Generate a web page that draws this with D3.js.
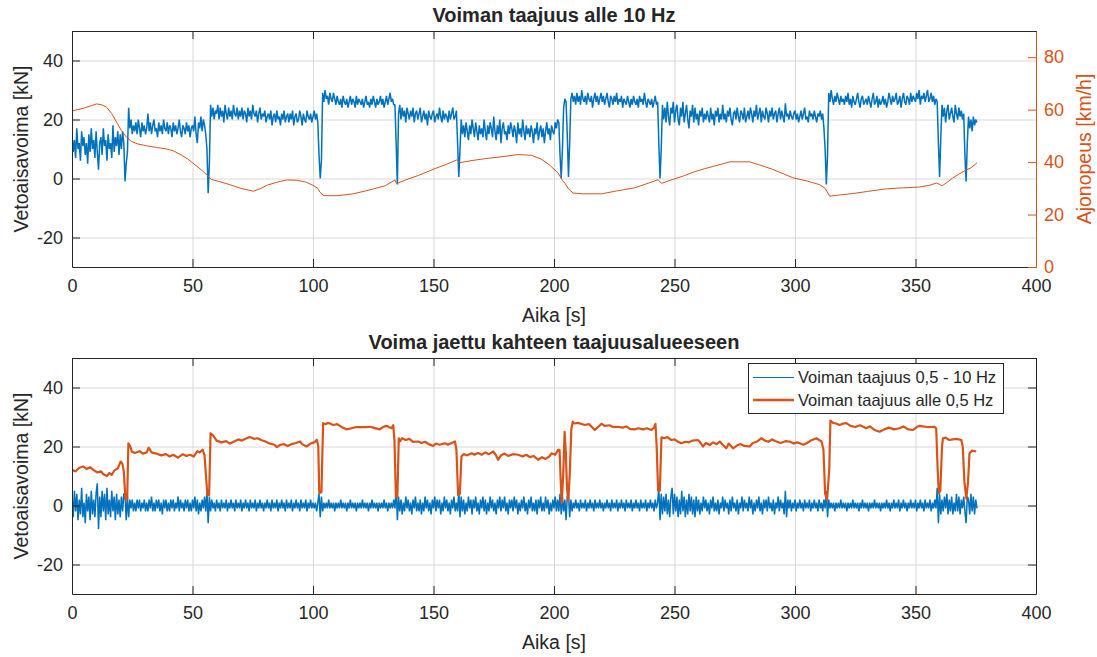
<!DOCTYPE html>
<html>
<head>
<meta charset="utf-8">
<script src="https://cdn.jsdelivr.net/npm/d3@7"></script>
<style>
  body { margin: 0; background: #fff; }
  text { font-family: "Liberation Sans", Arial, Helvetica, sans-serif; }
</style>
</head>
<body>
<svg id="chart" width="1097" height="657"></svg>
<script>
// ---- data ----
const sampleStep = 0.5; // s, force signals below are sampled twice a second (peak values)

// force below 10 Hz [kN], top plot, one row = 10 s
const topForce = [
  15, 9, 13, 7, 17, 10, 12, 6, 16, 11, 14, 8, 12, 5, 15, 9, 17, 10, 13, 7,
  16, 9, 3, 12, 14, 8, 17, 11, 13, 6, 15, 10, 12, 7, 18, 9, 14, 11, 16, 8,
  15, 10, 16, 12, -1, 5, 9, 24, 17, 20, 15, 18, 16, 19, 15, 20, 17, 14, 19, 16,
  18, 15, 17, 22, 16, 19, 15, 18, 20, 16, 17, 14, 19, 16, 18, 15, 20, 17, 16, 19,
  15, 18, 17, 14, 19, 16, 18, 15, 17, 20, 16, 14, 18, 17, 15, 19, 16, 18, 14, 17,
  18, 16, 21, 15, 12, 19, 17, 21, 16, 20, 18, 15, 10, -5, 5, 25, 21, 24, 20, 23,
  22, 25, 20, 24, 21, 23, 19, 25, 22, 20, 24, 21, 23, 20, 25, 22, 21, 24, 20, 23,
  21, 24, 20, 23, 22, 19, 24, 21, 23, 20, 25, 22, 21, 23, 19, 22, 24, 20, 22, 21,
  23, 19, 21, 22, 20, 23, 18, 21, 22, 19, 23, 20, 21, 18, 22, 20, 23, 19, 21, 22,
  19, 22, 20, 23, 18, 21, 22, 19, 20, 23, 21, 18, 22, 20, 19, 23, 21, 20, 22, 19,
  21, 23, 20, 22, 19, 8, 0, 6, 29, 26, 30, 27, 28, 25, 29, 27, 26, 29, 27, 25,
  28, 26, 25, 27, 24, 28, 26, 25, 27, 24, 26, 28, 25, 27, 26, 24, 28, 25, 27, 26,
  25, 27, 24, 26, 28, 25, 26, 24, 27, 25, 28, 26, 24, 27, 25, 26, 28, 25, 27, 24,
  26, 28, 25, 27, 29, 26, 27, 25, 25, 12, -2, 22, 25, 20, 24, 21, 23, 19, 24, 22,
  20, 23, 21, 24, 19, 22, 23, 20, 22, 24, 19, 21, 23, 20, 22, 18, 23, 21, 20, 22,
  23, 19, 21, 22, 20, 24, 21, 19, 23, 20, 22, 21, 19, 23, 20, 22, 24, 20, 21, 23,
  12, 0.5, 10, 20, 15, 18, 14, 19, 16, 13, 18, 15, 20, 17, 14, 19, 16, 13, 18, 15,
  17, 14, 20, 16, 13, 18, 15, 19, 17, 14, 21, 16, 13, 18, 15, 20, 12, 17, 19, 15,
  16, 13, 18, 15, 19, 17, 14, 18, 16, 12, 19, 15, 17, 14, 20, 16, 13, 18, 15, 17,
  14, 18, 16, 12, 17, 15, 19, 13, 16, 18, 14, 17, 12, 16, 19, 15, 17, 13, 18, 16,
  15, 19, 17, 20, 19, 8, 0, 10, 24, 27, 26, 15, 0.5, 12, 27, 29, 26, 28, 25, 29,
  26, 28, 25, 30, 27, 26, 28, 25, 29, 27, 26, 28, 24, 27, 29, 26, 28, 25, 27, 29,
  26, 28, 25, 27, 29, 26, 24, 28, 27, 25, 28, 26, 29, 25, 27, 26, 28, 24, 27, 26,
  25, 28, 26, 24, 27, 25, 28, 26, 25, 27, 24, 28, 26, 27, 25, 29, 26, 24, 27, 26,
  25, 27, 24, 26, 28, 25, 26, 12, 0, 10, 25, 20, 24, 19, 26, 21, 18, 24, 22, 26,
  19, 23, 25, 20, 18, 24, 21, 26, 19, 22, 25, 20, 17, 23, 21, 25, 19, 24, 20, 22,
  18, 23, 21, 24, 19, 22, 20, 23, 21, 19, 24, 20, 22, 18, 23, 21, 24, 19, 22, 20,
  25, 20, 22, 19, 23, 21, 24, 20, 18, 22, 23, 20, 24, 21, 19, 23, 22, 20, 24, 19,
  21, 23, 20, 24, 22, 19, 23, 21, 25, 20, 22, 24, 19, 23, 21, 20, 24, 22, 19, 23,
  21, 24, 20, 22, 23, 19, 22, 24, 20, 23, 21, 19, 25.5, 21, 22, 20, 23, 21, 20, 22,
  23, 20, 22, 19, 21, 23, 20, 22, 24, 20, 21, 19, 23, 21, 22, 20, 23, 21, 19, 22,
  21, 23, 20, 22, 17, 10, -2, 8, 29, 26, 30, 27, 25, 28, 26, 29, 27, 25, 28, 26,
  27, 25, 28, 26, 29, 25, 27, 24, 28, 26, 25, 27, 29, 26, 24, 27, 28, 25, 26, 27,
  25, 28, 26, 24, 27, 29, 25, 26, 28, 24, 27, 25, 26, 28, 25, 27, 24, 26, 29, 27,
  25, 28, 26, 27, 29, 25, 26, 28, 24, 27, 29, 26, 25, 28, 27, 25, 29, 26, 28, 27,
  26, 29, 27, 30, 25, 28, 27, 29, 26, 28, 30, 26, 27, 29, 26, 28, 25, 27, 26, 12,
  0.5, 14, 25, 21, 24, 19, 23, 25, 20, 22, 24, 21, 19, 25, 22, 20, 24, 21, 23, 20,
  22, 8, -1, 12, 21, 17, 20, 16, 21, 18, 20, 19
];

// force 0.5 - 10 Hz [kN], bottom plot, one row = 10 s
const bandForce = [
  3, -4, 5, -2, 4, -5, 2, -3, 6, -4, 1, -6, 4, -2, 3, -5, 5, -3, 2, -4,
  4, 7.5, -8, 3, -4, 5, -2, 4, -5, 6, -3, 2, -4, 5, -2, 3, -5, 4, -3, 2,
  -4, 3, -2, 4, 4, -5, 3, -4, 2, -1, 2, -2, 1, -2, 2, -1, 2, -2, 1, -1,
  2, -2, 1, -2, 2, -1, 3, -2, 1, -2, 2, -1, 2, -2, 1, -3, 2, -1, 2, -2,
  1, -2, 2, -1, 2, -2, 1, -1, 3, -2, 2, -1, 1, -2, 2, -1, 2, -2, 1, -2,
  2, -1, 3, -2, 2, -3, 1, -2, 2, -1, 3, -2, 5, -6, 3, -2, 2, -1, 1, -2,
  2, -1, 1, -2, 2, -1, 1, -1, 2, -2, 1, -1, 2, -1, 1, -2, 2, -1, 1, -1,
  2, -2, 1, -1, 2, -1, 1, -2, 2, -1, 1, -1, 2, -2, 1, -1, 2, -1, 1, -2,
  1, -1, 2, -1, 1, -2, 2, -1, 1, -1, 2, -2, 1, -1, 2, -1, 1, -2, 2, -1,
  1, -1, 2, -2, 1, -1, 2, -1, 1, -2, 2, -1, 1, -1, 2, -2, 1, -1, 2, -1,
  1, -1, 1, -2, 1, 4, -4, 3, -2, 1, -1, 1, -1, 2, -1, 1, -1, 1, -2, 1,
  -1, 1, -1, 2, -1, 1, -1, 1, -2, 1, -1, 2, -1, 1, -1, 1, -2, 1, -1, 1,
  -1, 2, -1, 1, -1, 1, -2, 1, -1, 2, -1, 1, -1, 1, -2, 1, -1, 1, -1, 2,
  -1, 1, -2, 1, -1, 1, -1, 2, -1, 6, -5, 3, -2, 2, -3, 1, -2, 3, -1, 2,
  -2, 1, -3, 2, -1, 3, -2, 1, -2, 2, -3, 1, -2, 3, -1, 2, -2, 1, -3, 2,
  -1, 3, -2, 2, -1, 2, -3, 1, -2, 3, -1, 2, -2, 1, -3, 2, -1, 3, -2, 1,
  -2, 5, -4, 3, -2, 2, -3, 1, -2, 3, -1, 2, -3, 2, -1, 3, -2, 1, -3, 2,
  -1, 3, -2, 2, -3, 1, -2, 3, -1, 2, -2, 1, -3, 2, -1, 3, -2, 2, -1, 3,
  -2, 1, -3, 2, -1, 2, -2, 3, -1, 2, -3, 1, -2, 2, -1, 3, -2, 1, -3, 2,
  -1, 3, -2, 1, -2, 2, -3, 2, -1, 3, -2, 1, -2, 3, -1, 2, -3, 1, -2, 2,
  -1, 3, -2, 2, -2, 4, -3, 3, -2, 2, -5, 3, 4, -4, 2, -2, 1, -1, 2, -1,
  1, -2, 2, -1, 1, -1, 2, -2, 1, -1, 2, -1, 1, -2, 2, -1, 1, -1, 2, -1,
  1, -2, 1, -1, 2, -1, 1, -2, 2, -1, 1, -1, 2, -2, 1, -1, 2, -1, 1, -2,
  2, -1, 1, -1, 2, -2, 1, -1, 2, -1, 1, -2, 2, -1, 1, -1, 2, -2, 1, -1,
  2, -1, 1, -2, 2, -1, 1, 6, -5, 4, -3, 3, -2, 4, -3, 2, -4, 3, 6, -3,
  4, -2, 3, -4, 2, -3, 5, -2, 3, -4, 2, -3, 4, -2, 3, -3, 2, -4, 3, -2,
  2, -3, 1, -2, 3, -1, 2, -2, 1, -3, 2, -1, 3, -2, 1, -2, 2, -3, 1, -1,
  3, -2, 2, -1, 1, -3, 2, -2, 3, -1, 1, -2, 2, -3, 1, -1, 3, -2, 2, -1,
  1, -2, 3, -1, 2, -3, 1, -2, 2, -1, 3, -2, 1, -3, 2, -1, 2, -2, 3, -1,
  1, -2, 2, -3, 1, -1, 3, -2, 2, -1, 1, -3, 5, -4, 2, -1, 2, -2, 1, -1,
  2, -2, 1, -1, 2, -1, 1, -2, 2, -1, 1, -1, 2, -2, 1, -1, 2, -1, 1, -2,
  2, -1, 1, -2, 2, -1, 5, -4, 2, -1, 1, -1, 1, -2, 1, -1, 1, -1, 2, -1,
  1, -1, 1, -2, 1, -1, 1, -1, 2, -1, 1, -1, 1, -2, 1, -1, 2, -1, 1, -1,
  1, -2, 1, -1, 1, -1, 2, -1, 1, -1, 1, -2, 1, -1, 1, -1, 2, -1, 1, -2,
  1, -1, 2, -1, 1, -1, 2, -2, 1, -1, 2, -1, 1, -2, 1, -1, 2, -1, 1, -1,
  2, -2, 1, -1, 2, -1, 1, -2, 2, -1, 1, -1, 2, -2, 1, -1, 2, -1, 6, -6,
  4, -3, 2, -2, 3, -1, 4, -3, 2, -2, 3, -3, 1, -2, 4, -2, 3, -3, 2, -1,
  3, -2, -6, 3, 2, -3, 4, -2, 3, -3, 2, -1
];

// force below 0.5 Hz [kN], bottom plot
const lowTime = [
  0, 1.5, 3, 4.7, 6, 7.5, 9, 10.5, 12, 13, 14.5, 15.5, 16.5, 17.5, 19, 20.2, 20.9, 21.5, 22.2, 22.9,
  23.4, 24.2, 24.8, 26, 28, 29.5, 31, 31.8, 33, 35, 37, 39, 40.5, 42, 44, 46, 47.5, 49, 50.5, 52,
  53, 54.2, 55, 55.6, 56.2, 56.9, 57.5, 58.5, 60, 62, 64, 65.5, 67, 69, 70.5, 72, 73.8, 75.5, 77, 78.5,
  80, 82, 84, 85, 86.5, 88, 89.5, 91, 93, 94.6, 95.5, 97.3, 99, 100.5, 101.6, 102.2, 102.6, 103.5, 104.2, 105,
  106.5, 108.4, 110, 111.5, 113, 114, 116, 118, 120, 122, 123.6, 125, 127.7, 129, 130.5, 131.5, 132.6, 133.3, 133.8, 134.4,
  135, 135.6, 136.2, 137, 138.5, 140, 141.5, 143.7, 145, 146.5, 148, 149.9, 151, 152.5, 154.7, 156, 157.5, 158.9, 159.5, 160.2,
  160.9, 161.6, 162.5, 164, 165.8, 167, 168.5, 170, 171.5, 173, 174.8, 175.8, 176.8, 178, 179.5, 181, 183, 185.1, 187, 188.5,
  190, 191.5, 193.4, 195, 196.5, 198, 199, 200.5, 201.7, 202.3, 202.8, 203.2, 203.8, 204.4, 204.9, 205.4, 205.9, 206.5, 207.2, 207.8,
  208.5, 210, 212.8, 214.5, 216.9, 218.5, 219.7, 221, 223, 224.5, 226.6, 228.5, 230, 231.5, 233.5, 235, 237, 238.5, 240.4, 241.5,
  242.1, 242.6, 243.2, 243.9, 244.6, 245.8, 247, 248.7, 250, 251.5, 252.8, 254.5, 256, 257.5, 259.7, 260.5, 261.8, 263, 264.6, 266,
  267.5, 268.8, 270, 271.5, 272.5, 274.3, 276, 277.5, 279, 281.2, 282.5, 284, 286.1, 287.5, 289, 290.5, 292.3, 294, 296, 297.8,
  299.5, 301, 302, 303.5, 305, 306.5, 308.9, 310, 311, 311.8, 312.5, 313.3, 314.2, 314.7, 315.8, 317, 318.5, 320, 321.3, 323,
  325, 327, 329.6, 331, 333, 335.1, 337, 339, 341, 343.4, 345, 347, 349, 350.5, 351.7, 353, 355, 357.9, 358.6, 359.2,
  359.7, 360.3, 361, 361.4, 362.5, 364, 365.5, 367, 369, 369.6, 370.3, 371.1, 371.8, 372.4, 373.5, 375.2
];
const lowForce = [
  12.0, 11.6, 12.8, 13.2, 12.4, 13.0, 12.0, 11.2, 11.6, 10.6, 10.0, 11.0, 10.4, 11.8, 12.6, 14.9, 14.2, 11.5, 2.0, 2.2,
  21.1, 20.0, 18.3, 17.8, 18.4, 17.6, 18.0, 19.6, 18.0, 17.6, 17.0, 17.4, 16.6, 17.2, 16.2, 17.4, 16.8, 17.2, 16.6, 18.4,
  18.0, 18.9, 17.0, 10.0, 3.4, 3.6, 24.5, 23.8, 22.0, 21.4, 21.8, 21.0, 21.6, 22.4, 22.0, 22.6, 23.2, 22.6, 22.8, 22.2,
  21.8, 21.0, 20.6, 19.8, 20.6, 20.8, 20.2, 20.8, 21.2, 21.7, 20.8, 20.0, 21.0, 21.4, 22.3, 20.0, 4.3, 4.5, 27.9, 27.6,
  28.0, 27.3, 27.6, 26.8, 26.2, 25.8, 26.2, 26.6, 26.6, 26.6, 26.7, 26.4, 25.8, 26.6, 27.0, 26.6, 26.2, 27.2, 22.0, 3.0,
  2.8, 22.8, 21.8, 22.8, 22.2, 22.6, 21.6, 21.7, 21.2, 21.6, 20.8, 20.2, 21.0, 20.6, 21.1, 20.6, 21.2, 21.7, 19.0, 3.6,
  3.8, 16.6, 17.4, 17.0, 17.7, 17.2, 17.8, 17.2, 18.0, 17.4, 18.3, 17.2, 15.5, 17.0, 17.6, 16.8, 17.4, 17.2, 16.6, 17.2,
  16.4, 16.8, 15.5, 16.4, 15.8, 16.6, 17.7, 17.2, 18.9, 18.9, 8.0, 0.8, 10.0, 25.0, 18.0, 6.0, 1.5, 10.0, 26.0, 28.4,
  27.8, 28.0, 27.3, 27.6, 25.6, 26.8, 27.7, 27.0, 27.2, 26.6, 26.7, 26.4, 26.8, 26.0, 25.8, 26.2, 25.8, 26.2, 25.6, 26.4,
  27.7, 20.0, 5.0, 5.0, 23.1, 22.8, 23.2, 22.2, 22.4, 21.6, 21.1, 21.6, 21.4, 22.0, 22.2, 21.6, 20.0, 21.2, 20.5, 21.4,
  20.8, 21.7, 20.6, 19.4, 21.0, 19.4, 20.4, 20.8, 20.2, 20.0, 21.2, 21.6, 22.8, 22.0, 21.6, 22.4, 21.7, 21.2, 21.8, 21.7,
  21.0, 21.4, 21.1, 20.6, 21.2, 22.0, 22.8, 22.2, 21.7, 19.0, 4.0, 1.9, 12.0, 28.8, 28.0, 27.8, 27.3, 27.8, 27.9, 27.0,
  26.6, 27.2, 26.2, 26.8, 25.6, 25.0, 25.8, 26.4, 25.8, 26.2, 26.8, 25.8, 25.6, 26.6, 27.0, 26.8, 26.6, 26.7, 26.0, 12.0,
  4.2, 5.0, 20.0, 22.8, 23.0, 22.2, 22.4, 22.6, 22.2, 20.0, 8.0, 2.3, 8.0, 17.7, 18.6, 18.3
];

// driving speed [km/h], top plot right axis
const speedTime = [
  0, 5, 10.2, 12.5, 14.4, 16.5, 18.5, 20.5, 22.7, 24.5, 27, 31, 35, 39.3, 42, 44.8, 48, 51.7, 54.5, 56.5,
  57.9, 61, 65.5, 70, 75.2, 78, 81, 84.9, 89, 93.2, 97, 100.1, 102, 102.9, 104.5, 110, 116.7, 124, 130, 134,
  134.7, 139, 143.7, 150.5, 155, 159.5, 160.9, 166, 171.3, 178, 185.1, 190.6, 194.8, 198, 201.7, 203.5, 204.5, 206, 207.9, 212,
  219.7, 226, 233.5, 238, 243.2, 244.6, 249, 254.3, 258, 262.5, 267, 273, 281.2, 285, 290, 295, 299.2, 305, 310.2, 312.5,
  314.4, 318, 324, 330, 337.9, 345, 351.7, 356, 358.6, 360, 361.1, 363, 365.5, 368, 371, 373, 375.5
];
const speed = [
  59.5, 60.6, 62.2, 61.8, 60.9, 58.5, 55.2, 52.0, 49.4, 48.0, 47.0, 46.2, 45.6, 45.0, 44.3, 43.0, 41.2, 38.5, 36.4, 34.6,
  33.4, 32.6, 31.4, 30.0, 28.9, 29.8, 31.2, 32.3, 33.2, 33.1, 32.4, 31.1, 30.0, 28.5, 27.2, 27.2, 27.9, 29.5, 31.0, 33.2,
  31.8, 33.4, 34.9, 37.5, 39.0, 40.8, 39.8, 40.6, 41.3, 42.0, 42.9, 42.6, 41.1, 39.0, 35.9, 33.0, 32.0, 29.8, 28.2, 27.9,
  27.9, 29.0, 30.2, 31.6, 33.3, 31.9, 33.3, 34.9, 36.2, 37.5, 38.6, 40.1, 40.1, 39.0, 37.5, 35.6, 34.0, 32.8, 31.4, 30.0,
  27.0, 27.4, 28.0, 28.8, 29.8, 30.2, 30.5, 31.2, 32.0, 31.5, 31.0, 32.2, 34.0, 35.4, 37.0, 37.8, 39.7
];

const timeTicks = [0, 50, 100, 150, 200, 250, 300, 350, 400];
const forceTicks = [-20, 0, 20, 40];
const speedTicks = [0, 20, 40, 60, 80];
const titles = ["Voiman taajuus alle 10 Hz", "Voima jaettu kahteen taajuusalueeseen"];
const xLabel = "Aika [s]";
const forceLabel = "Vetoaisavoima [kN]";
const speedLabel = "Ajonopeus [km/h]";
const legendLabels = ["Voiman taajuus 0,5 - 10 Hz", "Voiman taajuus alle 0,5 Hz"];

// ---- layout ----
const width = 1097, height = 657;
const margin = { left: 72, right: 61 };
const panels = [{ top: 31, bottom: 267 }, { top: 358, bottom: 594 }];
const blue = "#0072BD", orange = "#D95319", ink = "#262626", gridColor = "#d8d8d8";

const svg = d3.select("#chart");
svg.append("rect").attr("width", width).attr("height", height).attr("fill", "#fff");

const x = d3.scaleLinear().domain([0, 400]).range([margin.left, width - margin.right]);
const yTop = d3.scaleLinear().domain([-30, 50]).range([panels[0].bottom, panels[0].top]);
const yBottom = d3.scaleLinear().domain([-30, 50]).range([panels[1].bottom, panels[1].top]);
const ySpeed = d3.scaleLinear().domain([0, 90]).range([panels[0].bottom, panels[0].top]);

const plotW = x.range()[1] - x.range()[0];

function grid(y, p) {
  const g = svg.append("g");
  g.append("g").attr("transform", `translate(0,${p.bottom})`)
    .call(d3.axisBottom(x).tickValues(timeTicks).tickSize(-(p.bottom - p.top)).tickFormat(""))
    .call(a => a.select(".domain").remove());
  g.append("g").attr("transform", `translate(${x(0)},0)`)
    .call(d3.axisLeft(y).tickValues(forceTicks).tickSize(-plotW).tickFormat(""))
    .call(a => a.select(".domain").remove());
  g.selectAll("line").attr("stroke", gridColor);
}

function clip(id, p) {
  svg.append("clipPath").attr("id", id).append("rect")
    .attr("x", x(0)).attr("y", p.top).attr("width", plotW).attr("height", p.bottom - p.top);
}

function styleAxis(a, color) {
  a.selectAll(".domain").attr("stroke", color);
  a.selectAll(".tick line").attr("stroke", color);
  a.selectAll(".tick text").attr("fill", color).attr("font-size", 18)
    .attr("font-family", '"Liberation Sans", Arial, sans-serif');
}

function frame(y, p, rightAxis, rightColor) {
  const fmt = d => String(d);
  svg.append("g").attr("transform", `translate(0,${p.bottom})`)
    .call(d3.axisBottom(x).tickValues(timeTicks).tickSizeInner(-8).tickSizeOuter(0).tickPadding(12).tickFormat(fmt))
    .call(a => styleAxis(a, ink));
  svg.append("g").attr("transform", `translate(0,${p.top})`)
    .call(d3.axisTop(x).tickValues(timeTicks).tickSizeInner(-8).tickSizeOuter(0).tickFormat(""))
    .call(a => styleAxis(a, ink));
  svg.append("g").attr("transform", `translate(${x(0)},0)`)
    .call(d3.axisLeft(y).tickValues(forceTicks).tickSizeInner(-8).tickSizeOuter(0).tickPadding(9).tickFormat(fmt))
    .call(a => styleAxis(a, ink));
  svg.append("g").attr("transform", `translate(${x(400)},0)`)
    .call(rightAxis.tickSizeInner(-8).tickSizeOuter(0).tickPadding(8))
    .call(a => styleAxis(a, rightColor));
}

function label(text, tx, ty, opts = {}) {
  const t = svg.append("text")
    .attr("x", tx).attr("y", ty)
    .attr("text-anchor", "middle")
    .attr("font-size", opts.size || 19.5)
    .attr("font-weight", opts.bold ? "bold" : null)
    .attr("fill", opts.color || ink)
    .text(text);
  if (opts.rotate) t.attr("transform", `rotate(-90,${tx},${ty})`);
  return t;
}

const sampled = y => d3.line().x((d, i) => x(i * sampleStep)).y(d => y(d));

// ---- top plot ----
grid(yTop, panels[0]);
clip("clipTop", panels[0]);
const topG = svg.append("g").attr("clip-path", "url(#clipTop)");
topG.append("path").datum(topForce)
  .attr("d", sampled(yTop))
  .attr("fill", "none").attr("stroke", blue).attr("stroke-width", 1.5).attr("stroke-linejoin", "bevel");
topG.append("path").datum(speedTime)
  .attr("d", d3.line().x(d => x(d)).y((d, i) => ySpeed(speed[i])))
  .attr("fill", "none").attr("stroke", orange).attr("stroke-width", 1);
frame(yTop, panels[0],
  d3.axisRight(ySpeed).tickValues(speedTicks).tickFormat(d => String(d)), orange);

// ---- bottom plot ----
grid(yBottom, panels[1]);
clip("clipBottom", panels[1]);
const botG = svg.append("g").attr("clip-path", "url(#clipBottom)");
botG.append("path").datum(bandForce)
  .attr("d", sampled(yBottom))
  .attr("fill", "none").attr("stroke", blue).attr("stroke-width", 1.5).attr("stroke-linejoin", "bevel");
botG.append("path").datum(lowTime)
  .attr("d", d3.line().x(d => x(d)).y((d, i) => yBottom(lowForce[i])))
  .attr("fill", "none").attr("stroke", orange).attr("stroke-width", 2.2).attr("stroke-linejoin", "round");
frame(yBottom, panels[1],
  d3.axisRight(yBottom).tickValues(forceTicks).tickFormat(""), ink);

// ---- texts ----
const midX = (x(0) + x(400)) / 2;
label(titles[0], midX, 22, { bold: true, size: 20 });
label(titles[1], midX, 349, { bold: true, size: 20 });
label(xLabel, midX, 322);
label(xLabel, midX, 649);
label(forceLabel, 28, (panels[0].top + panels[0].bottom) / 2, { rotate: true });
label(forceLabel, 28, (panels[1].top + panels[1].bottom) / 2, { rotate: true });
label(speedLabel, 1091, (panels[0].top + panels[0].bottom) / 2, { rotate: true, color: orange });

// ---- legend ----
const legend = svg.append("g").attr("transform", "translate(748,363)");
legend.append("rect").attr("x", 0.5).attr("y", 0.5).attr("width", 255).attr("height", 50)
  .attr("fill", "#fff").attr("stroke", ink).attr("stroke-width", 1);
const entry = legend.selectAll("g.entry").data(legendLabels).join("g")
  .attr("class", "entry")
  .attr("transform", (d, i) => `translate(0,${14.5 + i * 22.5})`);
entry.append("line").attr("x1", 5).attr("x2", 46).attr("y1", 0).attr("y2", 0)
  .attr("stroke", (d, i) => i === 0 ? blue : orange)
  .attr("stroke-width", (d, i) => i === 0 ? 1 : 2.6);
entry.append("text").attr("x", 50).attr("y", 0).attr("dy", "0.35em")
  .attr("font-size", 16.5).attr("fill", ink).text(d => d);
</script>
</body>
</html>
